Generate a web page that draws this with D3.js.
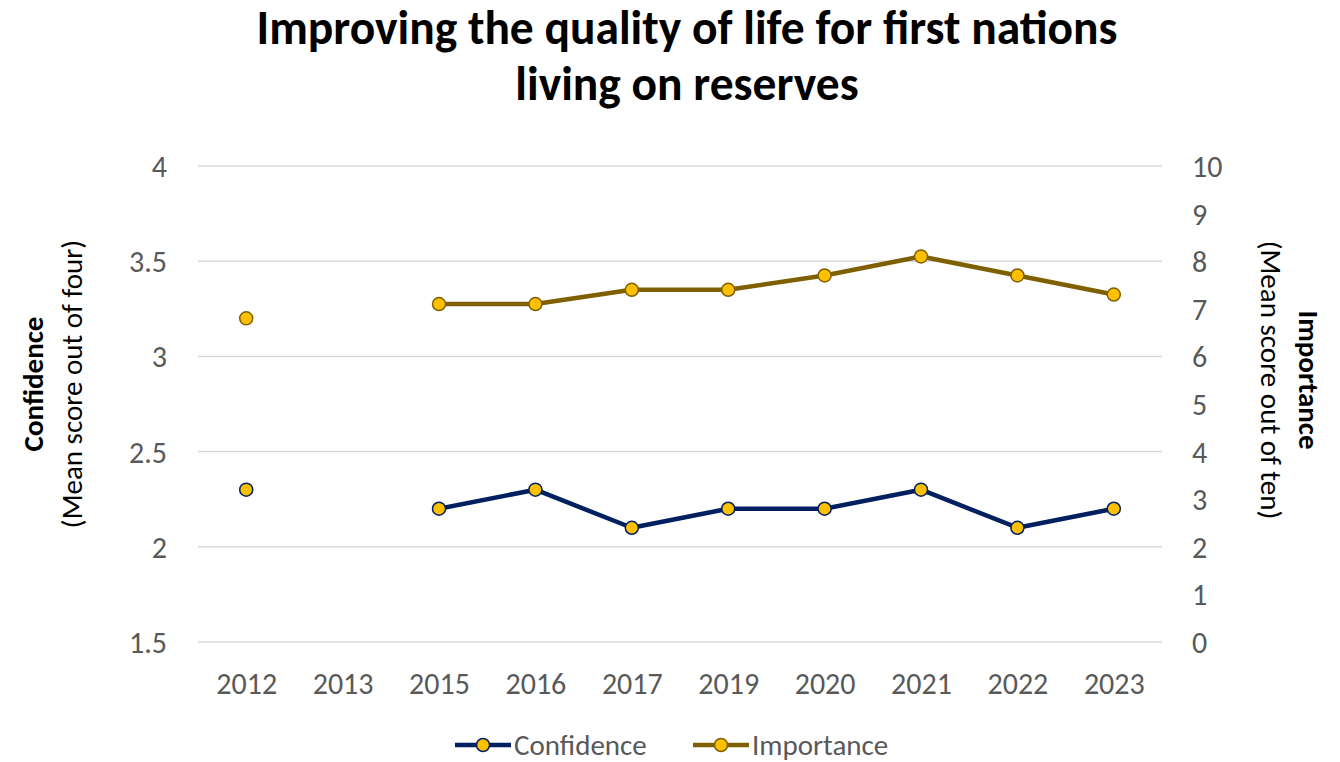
<!DOCTYPE html>
<html><head><meta charset="utf-8">
<script src="https://cdn.jsdelivr.net/npm/d3@7/dist/d3.min.js"></script>
<style>body{margin:0;background:#fff}svg{display:block}text{font-family:Carlito,Calibri,Lato,"Open Sans",sans-serif}</style>
</head><body><svg id="c" width="1340" height="762"></svg>
<script>
const years = ["2012","2013","2015","2016","2017","2019","2020","2021","2022","2023"];
const confidence = [2.3,null,2.2,2.3,2.1,2.2,2.2,2.3,2.1,2.2];
const importance = [6.8,null,7.1,7.1,7.4,7.4,7.7,8.1,7.7,7.3];
const leftTicks = [1.5,2,2.5,3,3.5,4];
const rightTicks = [0,1,2,3,4,5,6,7,8,9,10];
const titleLines = ["Improving the quality of life for first nations","living on reserves"];

const FF = "Carlito,Calibri,Lato,'Open Sans',sans-serif";
const svg = d3.select("#c");
const L=198, R=1162, T=166, B=642;
const x = d3.scalePoint().domain(years).range([L,R]).padding(0.5);
const yL = d3.scaleLinear().domain([1.5,4]).range([B,T]);
const yR = d3.scaleLinear().domain([0,10]).range([B,T]);

// title
svg.append("g").selectAll("text").data(titleLines).join("text")
  .attr("x",687).attr("y",(d,i)=>44+i*56).attr("text-anchor","middle")
  .attr("font-size",47.5).attr("font-weight","bold").attr("fill","#000").text(d=>d);

// gridlines
svg.append("g").selectAll("line").data(leftTicks).join("line")
  .attr("x1",L).attr("x2",R).attr("y1",d=>yL(d)).attr("y2",d=>yL(d))
  .attr("stroke","#d9d9d9").attr("stroke-width",1.5);

// left axis
const gl = svg.append("g").attr("transform",`translate(${L-31},0)`)
  .call(d3.axisLeft(yL).tickValues(leftTicks).tickSize(0).tickPadding(0).tickFormat(d3.format("")));
gl.select(".domain").remove();
gl.selectAll("text").attr("font-size",30).attr("fill","#595959").attr("dy","0.35em").style("font-family",FF);

// right axis
const gr = svg.append("g").attr("transform",`translate(${R+30},0)`)
  .call(d3.axisRight(yR).tickValues(rightTicks).tickSize(0).tickPadding(0));
gr.select(".domain").remove();
gr.selectAll("text").attr("font-size",30).attr("fill","#595959").attr("dy","0.35em").style("font-family",FF);

// x axis
const gx = svg.append("g").attr("transform",`translate(0,${B})`)
  .call(d3.axisBottom(x).tickSize(0));
gx.select(".domain").remove();
gx.selectAll("text").attr("font-size",30).attr("fill","#595959").attr("y",41).attr("dy","0.35em").style("font-family",FF);

// axis titles
const lt = svg.append("text").attr("transform","translate(0,384) rotate(-90)").attr("text-anchor","middle").attr("font-size",29).attr("fill","#000");
lt.append("tspan").attr("x",0).attr("y",43).attr("font-weight","bold").text("Confidence");
lt.append("tspan").attr("x",0).attr("y",82).text("(Mean score out of four)");
const rt = svg.append("text").attr("transform","translate(1340,380) rotate(90)").attr("text-anchor","middle").attr("font-size",29).attr("fill","#000");
rt.append("tspan").attr("x",0).attr("y",41).attr("font-weight","bold").text("Importance");
rt.append("tspan").attr("x",0).attr("y",79).text("(Mean score out of ten)");

const series = [
  {name:"Confidence", vals:confidence, y:yL, color:"#002060"},
  {name:"Importance", vals:importance, y:yR, color:"#7F6000"}
];
series.forEach(s=>{
  const pts = years.map((yr,i)=>({yr,v:s.vals[i]}));
  const line = d3.line().defined(d=>d.v!=null).x(d=>x(d.yr)).y(d=>s.y(d.v));
  svg.append("path").datum(pts).attr("d",line).attr("fill","none")
    .attr("stroke",s.color).attr("stroke-width",4.5).attr("stroke-linejoin","round");
  svg.append("g").selectAll("circle").data(pts.filter(d=>d.v!=null)).join("circle")
    .attr("cx",d=>x(d.yr)).attr("cy",d=>s.y(d.v)).attr("r",6.5)
    .attr("fill","#FFC000").attr("stroke",s.color).attr("stroke-width",1.5);
});

// legend
const legendX = [455,693];
series.forEach((s,i)=>{
  const g = svg.append("g").attr("transform",`translate(${legendX[i]},745)`);
  g.append("line").attr("x1",0).attr("x2",56).attr("stroke",s.color).attr("stroke-width",4.5);
  g.append("circle").attr("cx",28).attr("r",6.5).attr("fill","#FFC000").attr("stroke",s.color).attr("stroke-width",1.5);
  g.append("text").attr("x",59).attr("dy","0.35em").attr("font-size",29).attr("fill","#595959").text(s.name);
});
</script></body></html>
